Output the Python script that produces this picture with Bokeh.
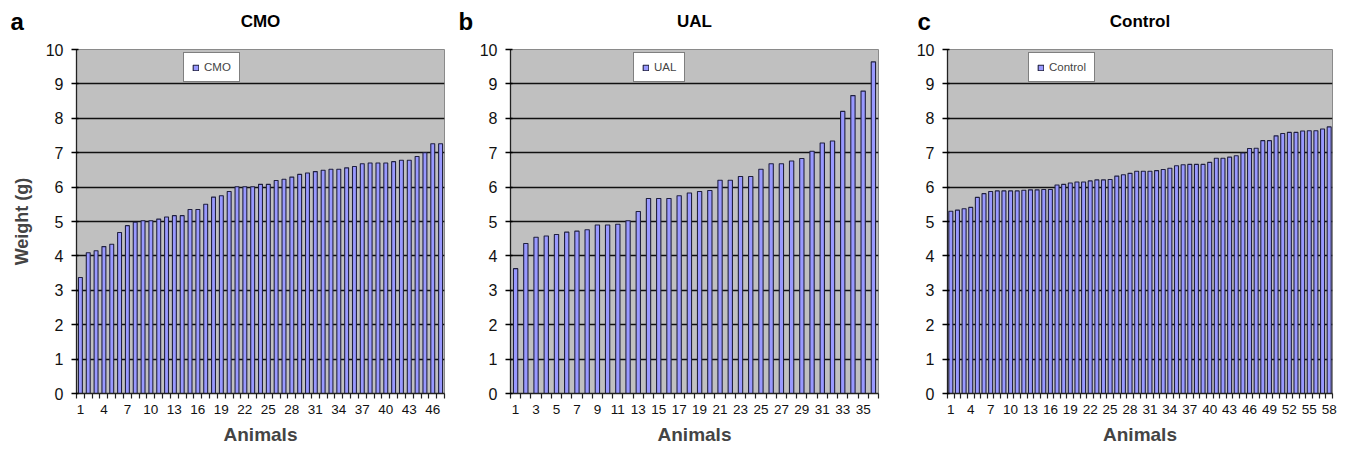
from bokeh.plotting import figure
from bokeh.layouts import row, column
from bokeh.models import FixedTicker, Label, Range1d, ColumnDataSource
from bokeh.embed import file_html
from bokeh.resources import INLINE

# ---- data ----
cmo_weights = [3.37, 4.09, 4.15, 4.27, 4.34, 4.68, 4.88, 4.98, 5.02, 5.02,
               5.07, 5.13, 5.17, 5.17, 5.35, 5.35, 5.50, 5.71, 5.75, 5.87,
               6.01, 6.01, 6.01, 6.08, 6.08, 6.19, 6.23, 6.29, 6.37, 6.41,
               6.45, 6.49, 6.52, 6.52, 6.56, 6.60, 6.68, 6.70, 6.70, 6.70,
               6.74, 6.78, 6.78, 6.89, 7.00, 7.26, 7.26]
ual_weights = [3.63, 4.36, 4.54, 4.58, 4.62, 4.69, 4.72, 4.76, 4.90, 4.90,
               4.92, 5.02, 5.29, 5.67, 5.67, 5.67, 5.75, 5.83, 5.87, 5.90,
               6.20, 6.20, 6.31, 6.31, 6.52, 6.68, 6.68, 6.76, 6.83, 7.04,
               7.28, 7.34, 8.20, 8.66, 8.79, 9.64]
control_weights = [5.30, 5.33, 5.37, 5.41, 5.70, 5.81, 5.87, 5.89, 5.89, 5.89,
                   5.89, 5.91, 5.92, 5.92, 5.93, 5.93, 6.06, 6.08, 6.12, 6.15,
                   6.15, 6.18, 6.21, 6.21, 6.22, 6.32, 6.36, 6.40, 6.46, 6.46,
                   6.46, 6.48, 6.51, 6.55, 6.62, 6.65, 6.66, 6.66, 6.66, 6.72,
                   6.84, 6.84, 6.87, 6.91, 6.99, 7.12, 7.13, 7.35, 7.35, 7.49,
                   7.56, 7.59, 7.59, 7.63, 7.64, 7.64, 7.69, 7.75]
panel_letters = ["a", "b", "c"]
panel_titles = ["CMO", "UAL", "Control"]
label_steps = [3, 2, 3]
y_ticks = list(range(0, 11))
y_label = "Weight (g)"
x_label = "Animals"

# ---- layout / style ----
FONT = "Liberation Sans"
BAR_FILL = "#9999FF"
BAR_LINE = "#202040"
HEADER_H = 40
PANEL_H = 407
TOP = 9
BOTTOM = 50
FRAME_W = [368, 368, 385]
BORDER_L = [76, 55, 47]
BORDER_R = [11, 22, 7]
BAR_W = [0.5, 0.42, 0.6]
LEGEND_LEFT = [107, 123, 81]
LETTER_X = [10, 458, 917]
TEXT_BASELINE_FROM_TOP = 21


def make_panel(title, vals, step, bar_w, bl, fw, br, leg_left, show_ylabel):
    n = len(vals)
    animals = list(range(1, n + 1))
    src = ColumnDataSource(dict(x=animals, top=vals))
    p = figure(width=bl + fw + br, height=PANEL_H, min_border_left=bl, min_border_right=br,
               min_border_top=TOP, min_border_bottom=BOTTOM,
               x_range=Range1d(0.5, n + 0.5), y_range=Range1d(0, 10),
               output_backend="svg", toolbar_location=None)
    p.background_fill_color = "#C0C0C0"
    p.border_fill_color = "white"
    p.outline_line_color = "#8a8a8a"
    p.outline_line_width = 1

    p.vbar(x="x", top="top", width=bar_w, source=src, fill_color=BAR_FILL,
           line_color=BAR_LINE, line_width=1.1, legend_label=title)

    p.xgrid.visible = False
    p.ygrid.ticker = FixedTicker(ticks=y_ticks)
    p.ygrid.grid_line_color = "#111111"
    p.ygrid.grid_line_width = 1.4

    ya = p.yaxis[0]
    ya.ticker = FixedTicker(ticks=y_ticks)
    ya.major_label_text_font = FONT
    ya.major_label_text_font_size = "16px"
    ya.major_label_text_color = "#111111"
    ya.major_tick_out = 5
    ya.major_tick_in = 2
    ya.minor_tick_line_color = None
    ya.axis_line_color = "#222222"
    ya.axis_line_width = 1.3
    ya.major_tick_line_width = 1.3
    ya.major_label_standoff = 8
    if show_ylabel:
        ya.axis_label = y_label
        ya.axis_label_text_font = FONT
        ya.axis_label_text_font_style = "bold"
        ya.axis_label_text_font_size = "18px"
        ya.axis_label_standoff = 11

    xa = p.xaxis[0]
    major = [k for k in animals if (k - 1) % step == 0]
    minor = [k + 0.5 for k in range(0, n + 1)]
    xa.ticker = FixedTicker(ticks=major, minor_ticks=minor)
    xa.major_tick_out = 0
    xa.major_tick_in = 0
    xa.minor_tick_out = 5
    xa.minor_tick_in = 0
    xa.minor_tick_line_color = "#222222"
    xa.minor_tick_line_width = 1.2
    xa.axis_line_color = "#222222"
    xa.axis_line_width = 1.3
    xa.major_label_text_font = FONT
    xa.major_label_text_font_size = "13.5px"
    xa.major_label_text_color = "#111111"
    xa.major_label_standoff = 6
    xa.axis_label = x_label
    xa.axis_label_text_font = FONT
    xa.axis_label_text_font_style = "bold"
    xa.axis_label_text_font_size = "19px"
    xa.axis_label_standoff = 7

    lg = p.legend[0]
    lg.location = (leg_left, 311)
    lg.label_text_font = FONT
    lg.label_text_font_size = "11.5px"
    lg.glyph_width = 7
    lg.glyph_height = 7
    lg.padding = 8
    lg.margin = 0
    lg.spacing = 0
    lg.label_standoff = 5
    lg.label_height = 12
    lg.border_line_color = "black"
    lg.border_line_width = 1.5
    lg.background_fill_color = "white"
    lg.background_fill_alpha = 1
    return p


panels = []
for i, vals in enumerate([cmo_weights, ual_weights, control_weights]):
    panels.append(make_panel(panel_titles[i], vals, label_steps[i], BAR_W[i],
                             BORDER_L[i], FRAME_W[i], BORDER_R[i], LEGEND_LEFT[i], i == 0))

# header strip with the panel letters and titles
total_w = sum(BORDER_L) + sum(FRAME_W) + sum(BORDER_R)
header = figure(width=total_w, height=HEADER_H, x_range=Range1d(0, total_w),
                y_range=Range1d(0, HEADER_H), min_border=0, x_axis_type=None,
                y_axis_type=None, output_backend="svg", toolbar_location=None)
header.grid.visible = False
header.outline_line_color = None
header.background_fill_color = "white"
header.border_fill_color = "white"

x0 = 0
for i in range(3):
    frame_left = x0 + BORDER_L[i]
    centre = frame_left + FRAME_W[i] / 2
    header.add_layout(Label(x=centre, y=HEADER_H - TEXT_BASELINE_FROM_TOP, text=panel_titles[i],
                            text_font=FONT, text_font_size="17px", text_font_style="bold",
                            text_align="center", text_baseline="alphabetic",
                            text_color="black"))
    header.add_layout(Label(x=LETTER_X[i], y=HEADER_H - TEXT_BASELINE_FROM_TOP,
                            text=panel_letters[i],
                            text_font=FONT, text_font_size="24px", text_font_style="bold",
                            text_align="left", text_baseline="alphabetic",
                            text_color="black"))
    x0 += BORDER_L[i] + FRAME_W[i] + BORDER_R[i]

layout = column(header, row(*panels))
open("out.html", "w").write(file_html(layout, INLINE))
